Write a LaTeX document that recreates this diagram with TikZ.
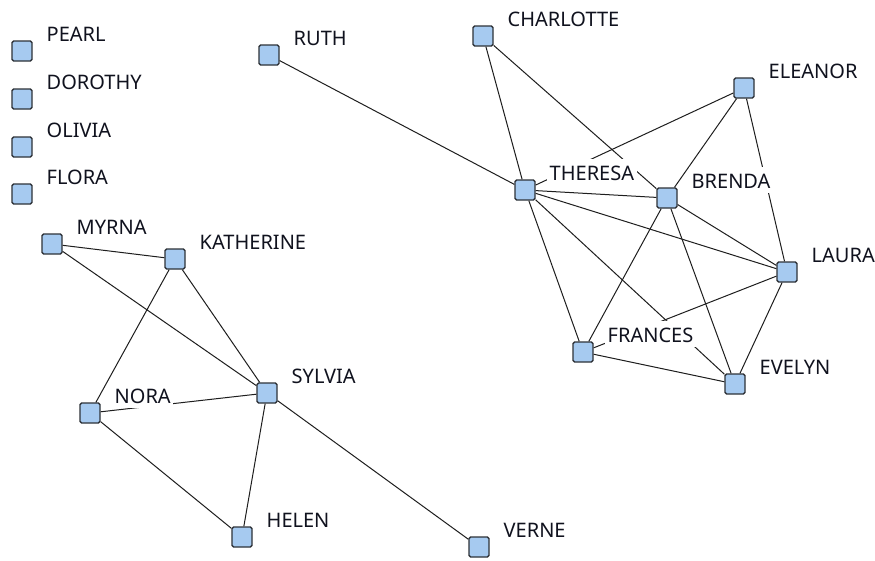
\documentclass[tikz,border=0pt]{standalone}
\usepackage{fontspec}
\setmainfont{Noto Sans}
\definecolor{sqfill}{HTML}{A6CAF0}
\definecolor{sqedge}{HTML}{2E3238}
\definecolor{tiecol}{HTML}{1E1E1E}
\definecolor{tagtext}{HTML}{10121E}
\begin{document}
\begin{tikzpicture}[x=1pt,y=-1pt,
  actor/.style={draw=sqedge, fill=sqfill, line width=1.3pt, rounded corners=1.6pt,
    minimum size=20pt, inner sep=0pt},
  tag/.style={fill=white, text=tagtext, font=\fontsize{20}{22}\selectfont,
    anchor=base west, text height=20pt, text depth=3pt, inner ysep=1.5pt, inner xsep=2.5pt},
  tie/.style={draw=tiecol, line width=1pt}]
\useasboundingbox[fill=white] (0,0) rectangle (875,560);

% actors
\foreach \n/\px/\py in {PEARL/22/51, DOROTHY/22/99, OLIVIA/22/147, FLORA/22/194,
    MYRNA/52/244, KATHERINE/175/259, SYLVIA/267/393, NORA/90/413, HELEN/242/537,
    VERNE/479/547, RUTH/269/55, CHARLOTTE/483/36, ELEANOR/744/88, THERESA/525/190,
    BRENDA/667/198, LAURA/787/272, FRANCES/583/352, EVELYN/735/384}
  \node[actor] (\n) at (\px,\py) {};

% ties
\foreach \a/\b in {MYRNA/KATHERINE, MYRNA/SYLVIA, KATHERINE/SYLVIA, KATHERINE/NORA,
    NORA/SYLVIA, NORA/HELEN, SYLVIA/HELEN, SYLVIA/VERNE, RUTH/THERESA,
    CHARLOTTE/THERESA, CHARLOTTE/BRENDA, ELEANOR/THERESA, ELEANOR/BRENDA,
    ELEANOR/LAURA, THERESA/BRENDA, THERESA/LAURA, THERESA/FRANCES, THERESA/EVELYN,
    BRENDA/LAURA, BRENDA/FRANCES, BRENDA/EVELYN, LAURA/FRANCES, LAURA/EVELYN,
    FRANCES/EVELYN}
  \draw[tie] (\a) -- (\b);

% names, on white so they hide the ties behind them
\foreach \n in {PEARL, DOROTHY, OLIVIA, FLORA, MYRNA, KATHERINE, SYLVIA, NORA, HELEN,
    VERNE, RUTH, CHARLOTTE, ELEANOR, THERESA, BRENDA, LAURA, FRANCES, EVELYN}
  \node[tag] (\n-name) at ([xshift=22pt,yshift=10pt]\n.center) {\n};
\end{tikzpicture}
\end{document}
